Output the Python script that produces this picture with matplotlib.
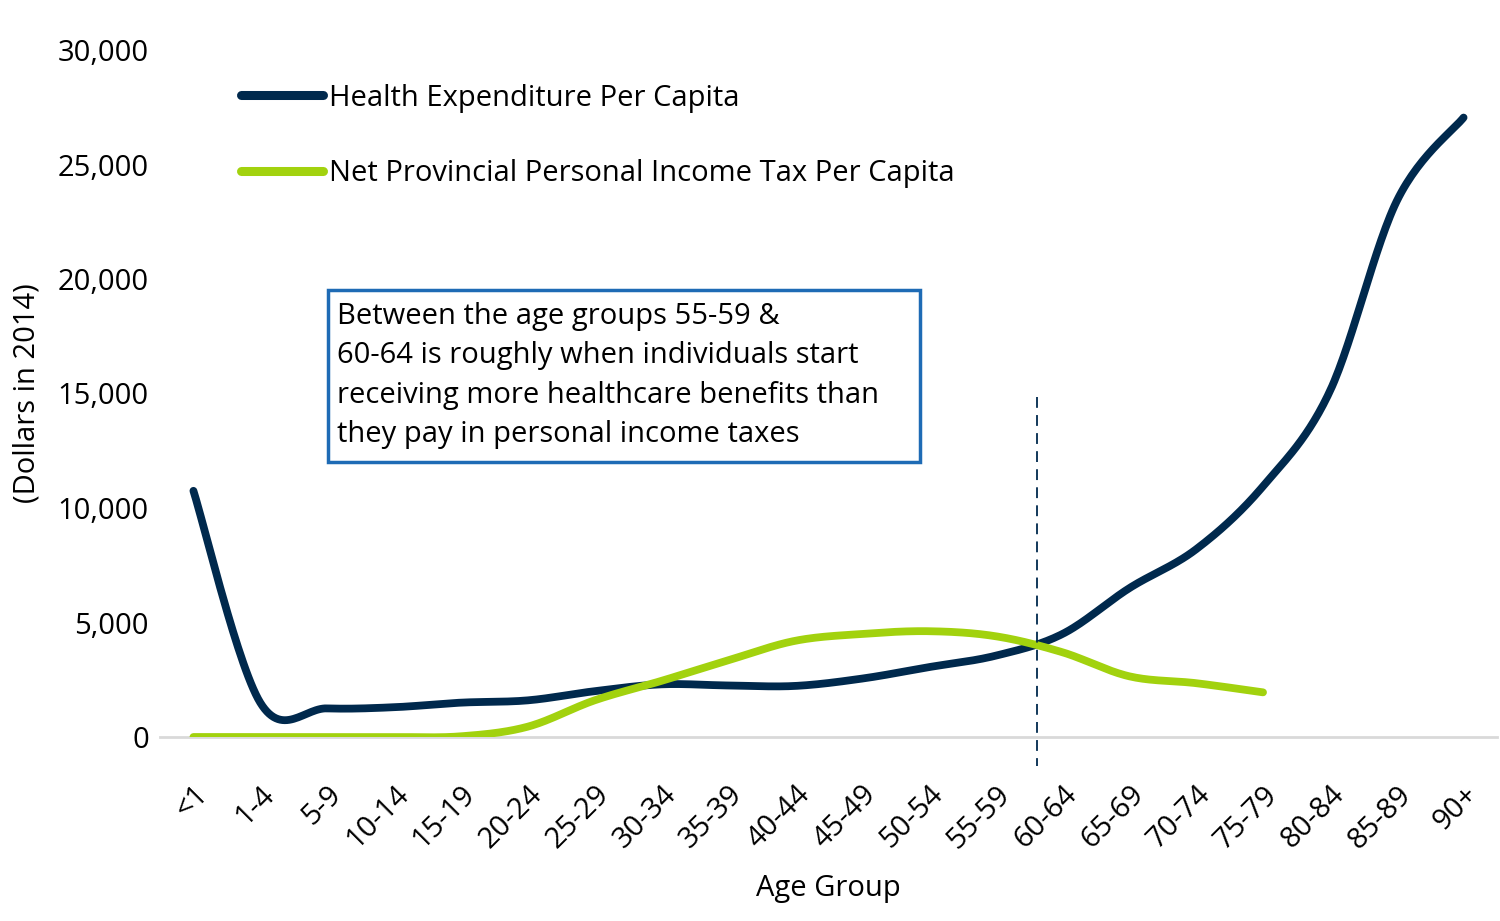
import numpy as np
import matplotlib
matplotlib.use("Agg")
import matplotlib.pyplot as plt
from matplotlib.patches import Rectangle
from matplotlib.ticker import FuncFormatter

plt.rcParams['font.family'] = ['Open Sans', 'DejaVu Sans']

# ---- data ----
age_groups = ["<1", "1-4", "5-9", "10-14", "15-19", "20-24", "25-29", "30-34",
              "35-39", "40-44", "45-49", "50-54", "55-59", "60-64", "65-69",
              "70-74", "75-79", "80-84", "85-89", "90+"]
health_exp = [10750, 1500, 1250, 1300, 1500, 1600, 2000, 2300, 2250, 2230,
              2550, 3050, 3550, 4500, 6500, 8200, 10950, 15100, 23400, 27050]
income_tax = [0, 0, 0, 0, 30, 450, 1600, 2450, 3350, 4200, 4500, 4620,
              4400, 3700, 2650, 2350, 1950]

NAVY = "#00294D"
GREEN = "#A2D20E"
BOX_BLUE = "#1E6BB5"
W, H = 1500, 921


def smooth(y, n=30):
    """Excel-style smoothed line (Catmull-Rom through the points)."""
    y = np.asarray(y, dtype=float)
    x = np.arange(len(y), dtype=float)
    xs, ys = [], []
    for i in range(len(y) - 1):
        p0 = y[i - 1] if i > 0 else y[i]
        p3 = y[i + 2] if i + 2 < len(y) else y[i + 1]
        p1, p2 = y[i], y[i + 1]
        x0 = x[i - 1] if i > 0 else x[i]
        x3 = x[i + 2] if i + 2 < len(y) else x[i + 1]
        # cubic bezier control points
        c1y = p1 + (p2 - p0) / 6.0
        c2y = p2 - (p3 - p1) / 6.0
        c1x = x[i] + (x[i + 1] - x0) / 6.0
        c2x = x[i + 1] - (x3 - x[i]) / 6.0
        t = np.linspace(0, 1, n, endpoint=(i == len(y) - 2))
        b0, b1, b2, b3 = (1 - t) ** 3, 3 * t * (1 - t) ** 2, 3 * t ** 2 * (1 - t), t ** 3
        xs.append(b0 * x[i] + b1 * c1x + b2 * c2x + b3 * x[i + 1])
        ys.append(b0 * p1 + b1 * c1y + b2 * c2y + b3 * p2)
    return np.concatenate(xs), np.concatenate(ys)


fig = plt.figure(figsize=(W / 100, H / 100), dpi=100)
ax = fig.add_axes([160 / W, (H - 737) / H, 1337 / W, 687 / H])

hx, hy = smooth(health_exp)
tx, ty = smooth(income_tax)
ax.plot(hx, hy, color=NAVY, lw=5.6, solid_capstyle="round",
        label="Health Expenditure Per Capita", zorder=3)
ax.plot(tx, ty, color=GREEN, lw=5.6, solid_capstyle="round",
        label="Net Provincial Personal Income Tax Per Capita", zorder=4)

# crossover marker
ax.plot([12.62, 12.62], [14850, -1250], color=NAVY, lw=1.3,
        linestyle=(0, (6, 4)), clip_on=False, zorder=5)

ax.set_xlim(-0.5, len(age_groups) - 0.5)
ax.set_ylim(0, 30000)
ax.set_xticks(range(len(age_groups)))
ax.set_xticklabels(age_groups, rotation=45, ha="right", rotation_mode="anchor",
                   fontsize=21)
ax.set_yticks(range(0, 30001, 5000))
ax.yaxis.set_major_formatter(FuncFormatter(lambda v, p: f"{int(v):,}"))
ax.tick_params(axis="y", labelsize=21, length=0, pad=8)
ax.tick_params(axis="x", length=0, pad=31)

for s in ["top", "right", "left"]:
    ax.spines[s].set_visible(False)
ax.spines["bottom"].set_color("#D9D9D9")
ax.spines["bottom"].set_linewidth(2)

ax.set_xlabel("Age Group", fontsize=21, labelpad=14)
ax.set_ylabel("(Dollars in 2014)", fontsize=21, labelpad=12)

leg = ax.legend(loc="upper left", bbox_to_anchor=(0.052, 0.968), frameon=False,
                fontsize=21, handlelength=2.8, handletextpad=0.2,
                labelspacing=1.6, borderaxespad=0)
for line in leg.get_lines():
    line.set_linewidth(6.5)

# annotation box
fig.patches.append(Rectangle((328 / W, 1 - 462 / H), 592 / W, 172 / H,
                             transform=fig.transFigure, facecolor="white",
                             edgecolor=BOX_BLUE, linewidth=2.5, zorder=6))
fig.text(337 / W, 1 - 302 / H,
         "Between the age groups 55-59 &\n60-64 is roughly when individuals start\n"
         "receiving more healthcare benefits than\nthey pay in personal income taxes",
         fontsize=21, va="top", ha="left", linespacing=1.47, zorder=7)

fig.savefig("out.png", dpi=100)
plt.close(fig)
